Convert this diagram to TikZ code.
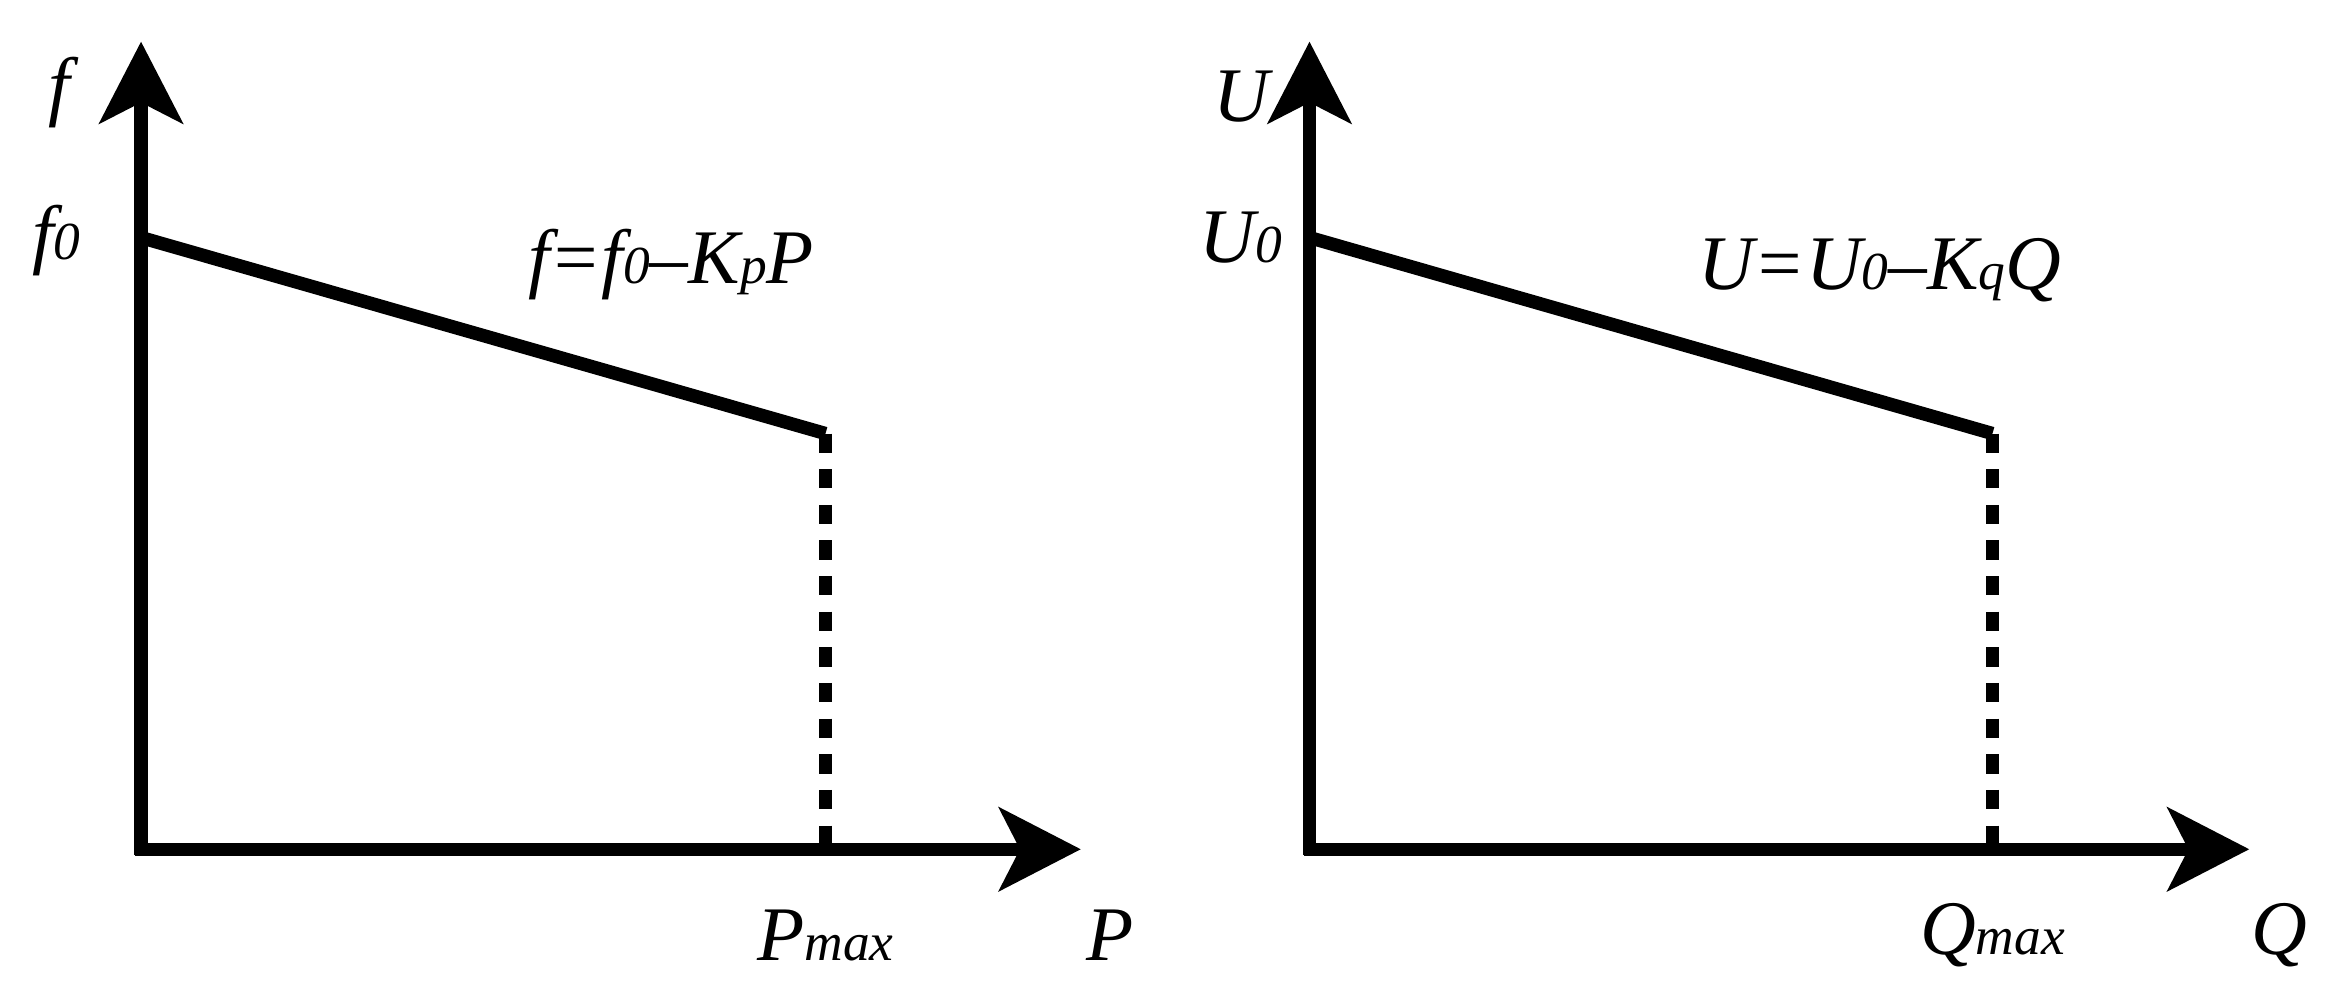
\documentclass[tikz,border=0pt]{standalone}
\usepackage{fontspec}
\setmainfont{Liberation Serif}
\usetikzlibrary{arrows.meta}
\newcommand{\sm}[1]{{\fontsize{36}{36}\selectfont\textit{#1}}}
\begin{document}
\begin{tikzpicture}[x=1pt,y=-1pt,
 ax/.style={line width=9pt,-{Stealth[length=55pt,width=56pt,inset=14pt]}},
 droop/.style={line width=9pt},
 dsh/.style={line width=9pt,dash pattern=on 13pt off 11pt},
 lbl/.style={font=\fontsize{52}{52}\selectfont\itshape,inner sep=0pt}]
\useasboundingbox (0,0) rectangle (1568,673);
% left
\coordinate (o1) at (95,572);
\coordinate (yt1) at (95,28);
\coordinate (xt1) at (728,572);
\coordinate (a1) at (95,160);
\coordinate (b1) at (556,292);
\coordinate (c1) at (556,572);
\draw[ax] (95,576) -- (yt1);
\draw[ax] (91,572) -- (xt1);
\draw[droop] (a1) -- (b1);
\draw[dsh] (b1) -- (c1);
\node[lbl] (f) at (40,62) {f};
\node[lbl] (f0) at (38,162) {f\sm{0}};
\node[lbl] (eq1) at (452,178) {f=f\sm{0}\textendash K\sm{p}P};
\node[lbl] (pm) at (556,630) {P\sm{max}};
\node[lbl] (p) at (748,630) {P};
% right
\coordinate (yt2) at (882,28);
\coordinate (xt2) at (1515,572);
\coordinate (a2) at (882,160);
\coordinate (b2) at (1342,292);
\coordinate (c2) at (1342,572);
\draw[ax] (882,576) -- (yt2);
\draw[ax] (878,572) -- (xt2);
\draw[droop] (a2) -- (b2);
\draw[dsh] (b2) -- (c2);
\node[lbl] (u) at (836,65) {U};
\node[lbl] (u0) at (836,160) {U\sm{0}};
\node[lbl] (eq2) at (1266,182) {U=U\sm{0}\textendash K\sm{q}Q};
\node[lbl] (qm) at (1342,630) {Q\sm{max}};
\node[lbl] (q) at (1535,630) {Q};
\end{tikzpicture}
\end{document}
